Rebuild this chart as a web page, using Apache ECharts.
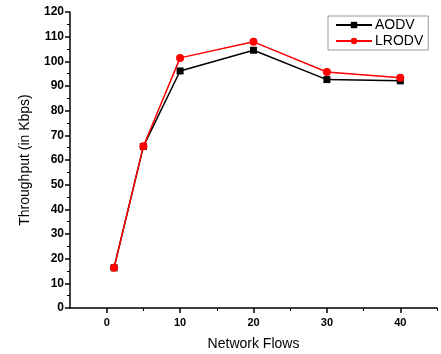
<!DOCTYPE html>
<html>
<head>
<meta charset="utf-8">
<script src="https://cdn.jsdelivr.net/npm/echarts@6/dist/echarts.min.js"></script>
<style>
  html, body { margin: 0; padding: 0; background: #fff; }
  #main { width: 441px; height: 354px; }
</style>
</head>
<body>
<div id="main"></div>
<script>
var flows = [1, 5, 10, 20, 30, 40];
var aodv = [16.3, 65.5, 96.1, 104.5, 92.6, 92.1];
var lrodv = [16.3, 65.6, 101.4, 107.9, 95.7, 93.3];
var xMajor = [0, 10, 20, 30, 40];
var xMinor = [5, 15, 25, 35, 45];

function pairs(xs, ys) {
  return xs.map(function (x, i) { return [x, ys[i]]; });
}

var font = 'Liberation Sans, Arial, sans-serif';
var myChart = echarts.init(document.getElementById('main'));
var option = {
  animation: false,
  grid: { left: 70, right: 4, top: 12, bottom: 46, outerBoundsMode: 'none' },
  legend: {
    orient: 'vertical',
    left: 328, top: 16,
    padding: [2, 5, 2, 7],
    itemGap: 2,
    itemWidth: 36, itemHeight: 8,
    borderColor: '#999', borderWidth: 1,
    textStyle: { fontFamily: font, fontSize: 14, color: '#000', padding: [0, 0, 0, -2] },
    data: ['AODV', 'LRODV']
  },
  xAxis: [{
    type: 'value', min: -5, max: 45,
    name: 'Network Flows', nameLocation: 'middle', nameGap: 29,
    nameTextStyle: { fontFamily: font, fontSize: 14, color: '#000' },
    axisLine: { onZero: false, lineStyle: { color: '#000', width: 1.5 } },
    axisTick: { customValues: xMajor, length: 5, lineStyle: { color: '#000', width: 1.5 } },
    axisLabel: { customValues: xMajor, fontFamily: font, fontSize: 11, fontWeight: 'bold', color: '#000', margin: 9 },
    splitLine: { show: false }
  }, {
    type: 'value', min: -5, max: 45, position: 'bottom',
    axisLine: { show: false, onZero: false },
    axisTick: { customValues: xMinor, length: 3, lineStyle: { color: '#000', width: 1 } },
    axisLabel: { show: false },
    splitLine: { show: false }
  }],
  yAxis: {
    type: 'value', min: 0, max: 120, interval: 10,
    name: 'Throughput (in Kbps)', nameLocation: 'middle', nameGap: 38,
    nameTextStyle: { fontFamily: font, fontSize: 14, color: '#000' },
    axisLine: { show: true, onZero: false, lineStyle: { color: '#000', width: 1.5 } },
    axisTick: { show: true, length: 5, lineStyle: { color: '#000', width: 1.5 } },
    minorTick: { show: true, splitNumber: 2, length: 3, lineStyle: { color: '#000', width: 1 } },
    axisLabel: { fontFamily: font, fontSize: 12, fontWeight: 'bold', color: '#000', margin: 6 },
    splitLine: { show: false }
  },
  series: [{
    name: 'AODV', type: 'line', xAxisIndex: 0,
    data: pairs(flows, aodv),
    symbol: 'rect', symbolSize: 7,
    itemStyle: { color: '#000' },
    lineStyle: { color: '#000', width: 1.5 }
  }, {
    name: 'LRODV', type: 'line', xAxisIndex: 0,
    data: pairs(flows, lrodv),
    symbol: 'circle', symbolSize: 8,
    itemStyle: { color: '#f00' },
    lineStyle: { color: '#f00', width: 1.5 }
  }]
};
myChart.setOption(option);
</script>
</body>
</html>
